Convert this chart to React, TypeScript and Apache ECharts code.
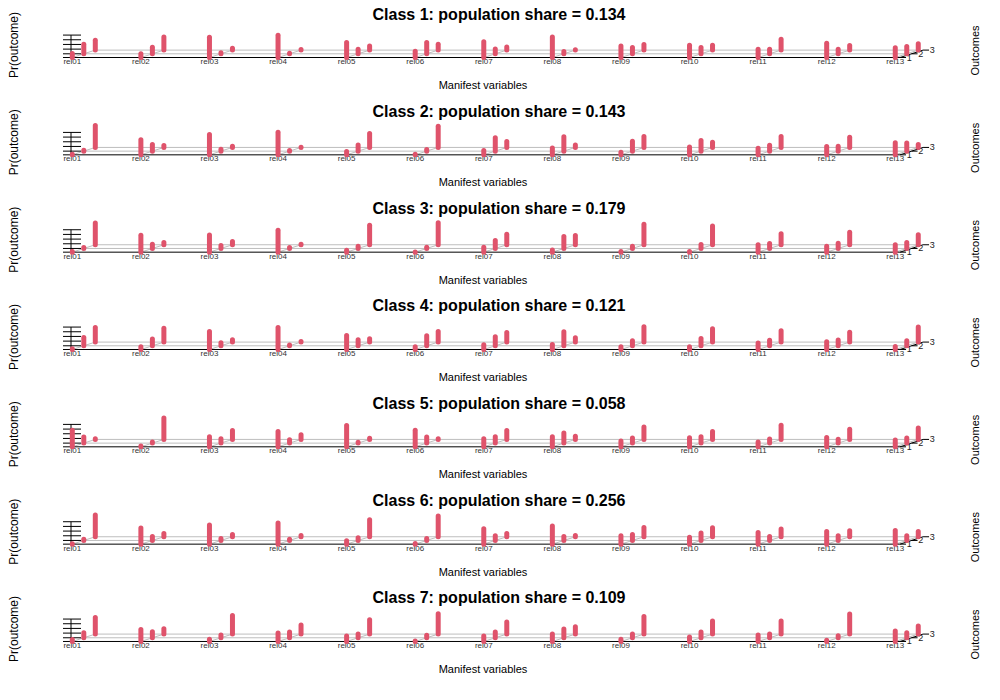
import React, { useEffect, useRef } from "react";
import * as echarts from "echarts";

const VARIABLES = ["rel01", "rel02", "rel03", "rel04", "rel05", "rel06", "rel07", "rel08", "rel09", "rel10", "rel11", "rel12", "rel13"];
const OUTCOMES = ["1", "2", "3"];
const SHARES = [0.134, 0.143, 0.179, 0.121, 0.058, 0.256, 0.109];

const class1 = [[0.17,0.41,0.42],[0.16,0.28,0.56],[0.87,0.05,0.08],[0.95,0.02,0.03],[0.64,0.19,0.17],[0.27,0.48,0.25],[0.67,0.20,0.13],[0.88,0.10,0.02],[0.49,0.27,0.24],[0.52,0.27,0.21],[0.35,0.19,0.46],[0.61,0.19,0.20],[0.42,0.31,0.27]];
const class2 = [[0.02,0.04,0.94],[0.64,0.28,0.08],[0.87,0.08,0.05],[0.96,0.03,0.01],[0.14,0.26,0.60],[0.02,0.07,0.91],[0.18,0.57,0.25],[0.29,0.61,0.10],[0.11,0.42,0.47],[0.33,0.45,0.22],[0.28,0.25,0.47],[0.36,0.21,0.43],[0.52,0.35,0.13]];
const class3 = [[0.03,0.04,0.93],[0.72,0.18,0.10],[0.73,0.13,0.14],[0.94,0.04,0.02],[0.08,0.09,0.83],[0.01,0.05,0.94],[0.21,0.34,0.45],[0.09,0.51,0.40],[0.03,0.09,0.88],[0.03,0.17,0.80],[0.32,0.21,0.47],[0.25,0.22,0.53],[0.32,0.25,0.43]];
const class4 = [[0.03,0.35,0.62],[0.12,0.29,0.59],[0.77,0.13,0.10],[0.94,0.03,0.03],[0.60,0.26,0.14],[0.12,0.43,0.45],[0.20,0.39,0.41],[0.21,0.60,0.19],[0.12,0.22,0.66],[0.12,0.31,0.57],[0.28,0.24,0.48],[0.33,0.25,0.42],[0.13,0.22,0.65]];
const class5 = [[0.71,0.26,0.03],[0.03,0.05,0.92],[0.43,0.19,0.38],[0.66,0.14,0.20],[0.91,0.04,0.05],[0.71,0.26,0.03],[0.35,0.27,0.38],[0.43,0.43,0.14],[0.25,0.22,0.53],[0.39,0.27,0.34],[0.21,0.18,0.61],[0.40,0.17,0.43],[0.29,0.22,0.49]];
const class6 = [[0.02,0.05,0.93],[0.69,0.17,0.14],[0.82,0.08,0.10],[0.90,0.05,0.05],[0.15,0.12,0.73],[0.03,0.08,0.89],[0.66,0.20,0.14],[0.78,0.17,0.05],[0.36,0.25,0.39],[0.30,0.32,0.38],[0.50,0.17,0.33],[0.54,0.20,0.26],[0.58,0.20,0.22]];
const class7 = [[0.08,0.21,0.71],[0.51,0.26,0.23],[0.09,0.12,0.79],[0.36,0.25,0.39],[0.23,0.16,0.61],[0.02,0.11,0.87],[0.23,0.25,0.52],[0.32,0.37,0.31],[0.09,0.16,0.75],[0.19,0.25,0.56],[0.28,0.16,0.56],[0.05,0.09,0.86],[0.45,0.21,0.34]];
const CLASSES = [class1, class2, class3, class4, class5, class6, class7];

// layout (pixels)
const X0 = 72.3;      // pixel x of first variable, outcome 1
const XS = 68.58;     // pixels per variable
const DXP = 11.5;     // pixel shift per outcome (depth)
const ZS = 23.4;      // pixels per unit probability
const DYP = 3.7;      // vertical pixel shift per outcome (depth)
const BASE0 = 57.5;   // baseline of first panel
const PANEL_H = 97.33;
const XMIN = -0.2, XMAX = 13;
const YMIN = -0.4, YMAX = 1.2;
const dxU = DXP / XS;
const dyU = DYP / ZS;

const BAR = "#DF536B";
const GRAY = "#BEBEBE";
const FONT = "'Liberation Sans', Arial, sans-serif";

export default function App() {
  const ref = useRef<HTMLDivElement>(null);
  useEffect(() => {
    document.body.style.margin = "0";
    const chart = echarts.init(ref.current!, null, { renderer: "svg" });
    const grids: any[] = [];
    const xAxes: any[] = [];
    const yAxes: any[] = [];
    const series: any[] = [];
    const graphics: any[] = [];

    CLASSES.forEach((probs, k) => {
      const base = BASE0 + k * PANEL_H;
      grids.push({
        left: X0 + XMIN * XS,
        width: (XMAX - XMIN) * XS,
        top: base - YMAX * ZS,
        height: (YMAX - YMIN) * ZS,
      });
      xAxes.push({ type: "value", gridIndex: k, min: XMIN, max: XMAX, show: false });
      yAxes.push({ type: "value", gridIndex: k, min: YMIN, max: YMAX, show: false });

      // frame: floor grid, axes, labels
      series.push({
        type: "custom",
        xAxisIndex: k,
        yAxisIndex: k,
        z: 1,
        silent: true,
        data: [[0, 0]],
        renderItem: (params: any, api: any) => {
          const c = (x: number, y: number) => api.coord([x, y]);
          const line = (a: number[], b: number[], stroke: string, w = 1) => ({
            type: "line",
            shape: { x1: a[0], y1: a[1], x2: b[0], y2: b[1] },
            style: { stroke, lineWidth: w },
          });
          const children: any[] = [];
          const last = VARIABLES.length - 1;
          for (let o = 1; o < OUTCOMES.length; o++) {
            children.push(line(c(o * dxU, o * dyU), c(last + o * dxU, o * dyU), GRAY));
          }
          VARIABLES.forEach((_, i) => {
            children.push(line(c(i, 0), c(i + (OUTCOMES.length - 1) * dxU, (OUTCOMES.length - 1) * dyU), GRAY));
          });
          const left = -9.3 / XS;
          const right = last + 0.07;
          children.push(line(c(left, 0), c(right, 0), "#000"));
          const tickR = (81 - X0) / XS;
          for (let t = 0; t < 5; t++) {
            const y = dyU + t * 0.2;
            children.push(line(c(left, y), c(tickR, y), "#000"));
          }
          children.push(line(c(-1.3 / XS, 0), c(-1.3 / XS, dyU + 0.8), "#000"));
          children.push(line(c(right, 0), c(right + 2 * dxU, 2 * dyU), "#000"));
          OUTCOMES.forEach((lab, o) => {
            const p = c(right + o * dxU, o * dyU);
            children.push(line(p, [p[0] + 6, p[1]], "#000"));
            const q = c(last + o * dxU, o * dyU);
            children.push({
              type: "text",
              x: q[0] + 14,
              y: q[1],
              style: { text: lab, fill: "#222", fontSize: 9, fontFamily: FONT, align: "center", verticalAlign: "middle" },
            });
          });
          VARIABLES.forEach((v, i) => {
            const p = c(i, 0);
            children.push({
              type: "text",
              x: p[0],
              y: p[1] + 4,
              style: { text: v, fill: "#333", fontSize: 8, fontFamily: FONT, align: "center", verticalAlign: "middle" },
            });
          });
          return { type: "group", children };
        },
      });

      const data: number[][] = [];
      for (let o = OUTCOMES.length - 1; o >= 0; o--) {
        probs.forEach((row, i) => data.push([i, o, row[o]]));
      }
      series.push({
        type: "custom",
        name: "Class " + (k + 1),
        xAxisIndex: k,
        yAxisIndex: k,
        z: 3,
        data,
        renderItem: (params: any, api: any) => {
          const i = api.value(0);
          const o = api.value(1);
          const p = api.value(2);
          const x = i + o * dxU;
          const y0 = o * dyU;
          const a = api.coord([x, y0]);
          const b = api.coord([x, y0 + Math.max(p, 0.004)]);
          return {
            type: "line",
            shape: { x1: a[0], y1: a[1], x2: b[0], y2: b[1] },
            style: { stroke: BAR, lineWidth: 5, lineCap: "round" },
          };
        },
      });

      const top = k * PANEL_H;
      graphics.push({
        type: "text",
        x: 499,
        y: top + 14,
        style: {
          text: `Class ${k + 1}: population share = ${SHARES[k].toFixed(3)}`,
          fill: "#000", fontSize: 16, fontWeight: "bold", fontFamily: FONT,
          align: "center", verticalAlign: "middle",
        },
      });
      graphics.push({
        type: "text",
        x: 483,
        y: top + 85,
        style: { text: "Manifest variables", fill: "#000", fontSize: 11, fontFamily: FONT, align: "center", verticalAlign: "middle" },
      });
      graphics.push({
        type: "text",
        x: 14,
        y: top + 45,
        rotation: Math.PI / 2,
        style: { text: "Pr(outcome)", fill: "#000", fontSize: 12, fontFamily: FONT, align: "center", verticalAlign: "middle" },
      });
      graphics.push({
        type: "text",
        x: 975,
        y: top + 50.5,
        rotation: Math.PI / 2,
        style: { text: "Outcomes", fill: "#000", fontSize: 11, fontFamily: FONT, align: "center", verticalAlign: "middle" },
      });
    });

    chart.setOption({
      animation: false,
      backgroundColor: "#fff",
      grid: grids,
      xAxis: xAxes,
      yAxis: yAxes,
      series,
      graphic: graphics,
    });
    return () => chart.dispose();
  }, []);
  return <div ref={ref} style={{ position: "absolute", left: 0, top: 0, width: 1000, height: 700 }} />;
}
